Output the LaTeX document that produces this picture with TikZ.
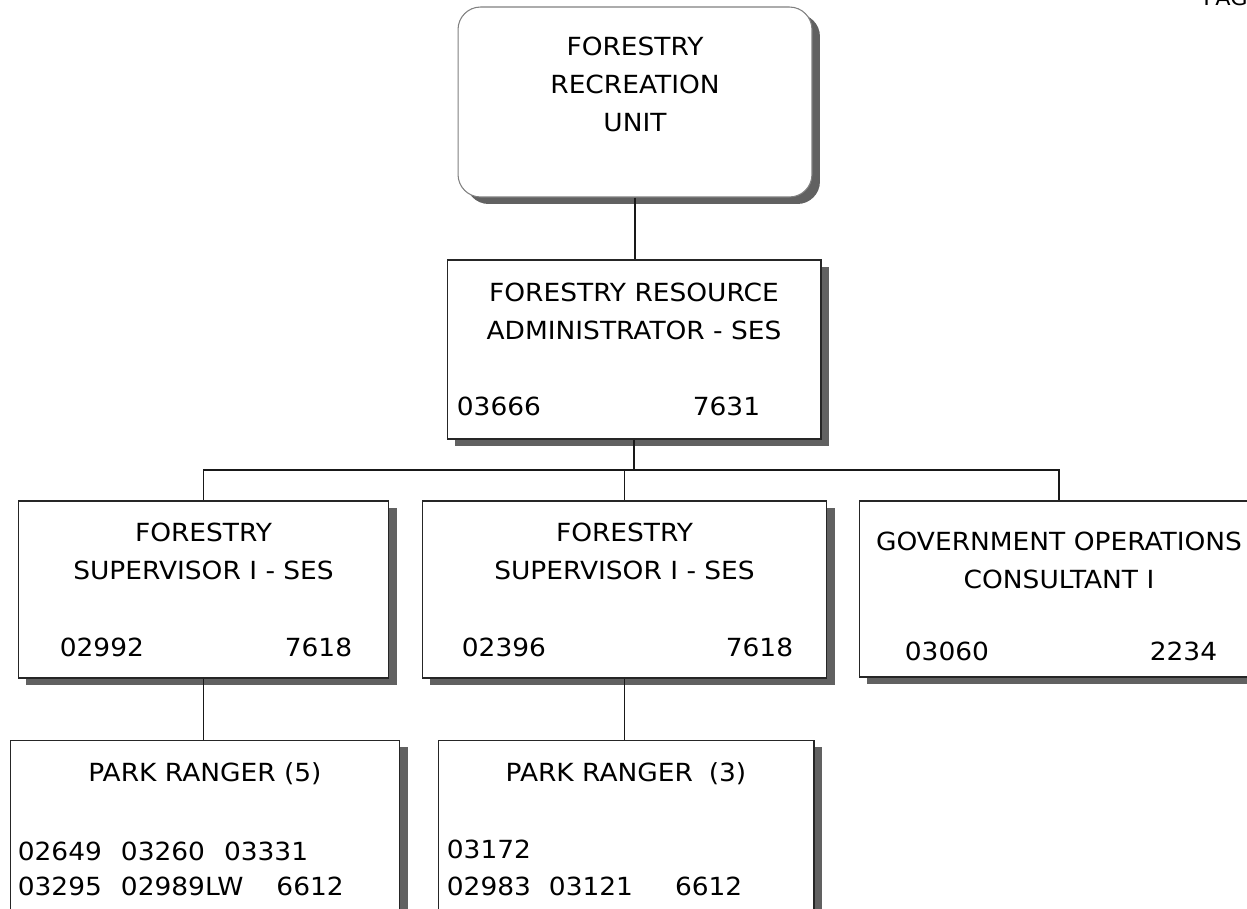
\documentclass[tikz,border=0pt]{standalone}
\usepackage{fontspec}
\setmainfont{DejaVu Sans}[FakeStretch=1.06]
\usetikzlibrary{positioning}
\usetikzlibrary{shadows}

\newcommand{\orgfont}{\fontsize{14.2}{21.7}\selectfont}

\tikzset{
    post/.style={rectangle, draw=black!85, line width=0.6pt, fill=white,
        drop shadow={shadow xshift=0.16cm, shadow yshift=-0.14cm, fill=black!62, opacity=1}},
    unitbox/.style={post, draw=black!50, rounded corners=0.45cm},
    title/.style={align=center, inner sep=0pt, font=\orgfont},
    num/.style={inner sep=0pt, font=\orgfont},
    link/.style={draw=black!90, line width=0.6pt}
}

\begin{document}
\begin{tikzpicture}[x=0.02cm, y=-0.02cm]
    \useasboundingbox (0,0) rectangle (1247,909);
    \clip (0,0) rectangle (1247,909);

    \node [num, anchor=base west, font=\fontsize{12}{14}\selectfont] (pagemark) at (1203,6) {PAGE};

    % boxes
    \node [unitbox, minimum width=7.08cm, minimum height=3.8cm] (recunit) at (635,102) {};
    \node [post, minimum width=7.48cm, minimum height=3.58cm] (admin) at (634,349.5) {};
    \node [post, minimum width=7.42cm, minimum height=3.54cm] (supl) at (203.5,589.5) {};
    \node [post, minimum width=8.1cm, minimum height=3.54cm] (supm) at (624.5,589.5) {};
    \node [post, minimum width=8cm, minimum height=3.52cm] (supr) at (1059,589) {};
    \node [post, minimum width=7.8cm, minimum height=4cm] (rngl) at (205,840) {};
    \node [post, minimum width=7.52cm, minimum height=4cm] (rngm) at (626,840) {};

    % titles
    \node [title, below=0.6cm of recunit.north] (recunit-t) {FORESTRY\\RECREATION\\UNIT};
    \node [title, below=0.46cm of admin.north] (admin-t) {FORESTRY RESOURCE\\ADMINISTRATOR - SES};
    \node [title, below=0.44cm of supl.north] (supl-t) {FORESTRY\\SUPERVISOR I - SES};
    \node [title, below=0.44cm of supm.north] (supm-t) {FORESTRY\\SUPERVISOR I - SES};
    \node [title, below=0.62cm of supr.north] (supr-t) {GOVERNMENT OPERATIONS\\CONSULTANT I};
    \node [title, below=0.46cm of rngl.north] (rngl-t) {PARK RANGER (5)};
    \node [title, below=0.46cm of rngm.north] (rngm-t) {PARK RANGER\hspace{0.3em} (3)};

    % position and class numbers
    \node [num, below right=2.74cm and 0.2cm of admin.north west] (admin-pos) {03666};
    \node [num, below right=2.74cm and 4.92cm of admin.north west] (admin-cls) {7631};
    \node [num, below right=2.74cm and 0.84cm of supl.north west] (supl-pos) {02992};
    \node [num, below left=2.74cm and 0.74cm of supl.north east] (supl-cls) {7618};
    \node [num, below right=2.74cm and 0.8cm of supm.north west] (supm-pos) {02396};
    \node [num, below left=2.74cm and 0.68cm of supm.north east] (supm-cls) {7618};
    \node [num, below right=2.82cm and 0.92cm of supr.north west] (supr-pos) {03060};
    \node [num, below left=2.82cm and 0.84cm of supr.north east] (supr-cls) {2234};
    \node [num, below right=2.04cm and 0.16cm of rngl.north west] (rngl-a) {02649\hspace{0.38cm}03260\hspace{0.38cm}03331};
    \node [num, below right=2.74cm and 0.16cm of rngl.north west] (rngl-b) {03295\hspace{0.38cm}02989LW\hspace{0.66cm}6612};
    \node [num, below right=2.0cm and 0.18cm of rngm.north west] (rngm-a) {03172};
    \node [num, below right=2.74cm and 0.18cm of rngm.north west] (rngm-b) {02983\hspace{0.36cm}03121\hspace{0.84cm}6612};

    % reporting lines
    \coordinate (bus) at (634,470);
    \draw [link] (recunit.south) -- (recunit.south |- admin.north);
    \draw [link] (admin.south) -- (bus);
    \draw [link] (bus) -| (supl.north);
    \draw [link] (bus) -| (supm.north);
    \draw [link] (bus) -| (supr.north);
    \draw [link] (supl.south) -- (supl.south |- rngl.north);
    \draw [link] (supm.south) -- (supm.south |- rngm.north);
\end{tikzpicture}
\end{document}
